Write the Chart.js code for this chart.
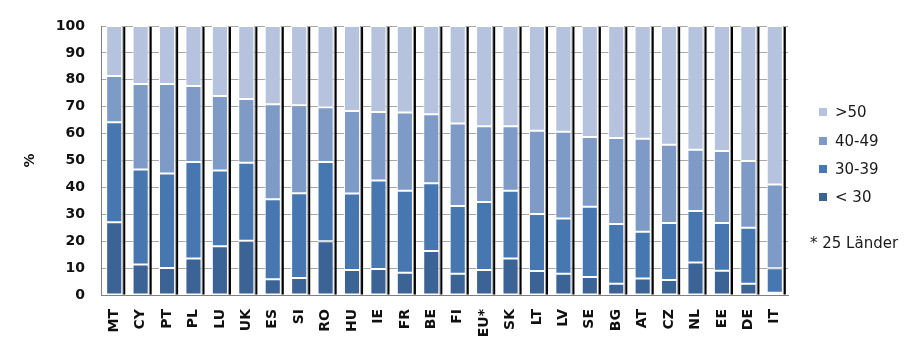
<!DOCTYPE html>
<html>
<head>
<meta charset="utf-8">
<script src="https://cdn.jsdelivr.net/npm/chart.js@4/dist/chart.umd.min.js"></script>
<style>
  html, body { margin: 0; padding: 0; background: #fff; }
  #wrap { position: relative; width: 916px; height: 348px; }
  canvas { position: absolute; left: 0; top: 0; }
  .leg { position: absolute; left: 819px; font-family: "DejaVu Sans", sans-serif; font-size: 15px; color: #1a1a1a; line-height: 16px; white-space: nowrap; }
  .leg i { display: inline-block; width: 8px; height: 8px; margin-right: 8px; vertical-align: 1px; }
  .note { position: absolute; left: 810px; top: 234px; font-family: "DejaVu Sans", sans-serif; font-size: 15px; color: #1a1a1a; white-space: nowrap; }
</style>
</head>
<body>
<div id="wrap">
  <canvas id="c" width="916" height="348"></canvas>
</div>
<script>
const categories = ["MT","CY","PT","PL","LU","UK","ES","SI","RO","HU","IE","FR","BE","FI","EU*","SK","LT","LV","SE","BG","AT","CZ","NL","EE","DE","IT"];
const seriesNames = ["< 30","30-39","40-49",">50"];
const under30  = [27.0,11.3,10.0,13.6,18.1,20.2, 5.9, 6.3,20.0, 9.3, 9.7, 8.3,16.4, 7.9, 9.3,13.6, 8.9, 7.9, 6.7, 4.2, 6.1, 5.6,12.1, 9.0, 4.2, 0.8];
const age30_39 = [37.2,35.4,35.2,35.8,28.2,29.0,29.7,31.5,29.4,28.4,32.9,30.5,25.1,25.2,25.3,25.2,21.2,20.5,26.1,22.2,17.4,21.2,19.1,17.8,20.8, 9.1];
const age40_49 = [17.2,31.7,33.2,28.3,27.7,23.7,35.3,32.7,20.4,30.7,25.4,29.0,25.7,30.7,28.1,23.9,31.0,32.3,25.9,32.0,34.6,29.1,22.8,26.7,24.8,31.2];
const over50   = [18.6,21.6,21.6,22.3,26.0,27.1,29.1,29.5,30.2,31.6,32.0,32.2,32.8,36.2,37.3,37.3,38.9,39.3,41.3,41.6,41.9,44.1,46.0,46.5,50.2,58.9];
const yTicks = [0,10,20,30,40,50,60,70,80,90,100];
const footnote = "* 25 Länder";

const colors = ["#3B6396","#4677B0","#7E9BC8","#B5C3DF"];
const values = [under30, age30_39, age40_49, over50];

// HTML legend (reverse order like reference)
const wrap = document.getElementById('wrap');
const legTops = [189, 161, 133, 104];
for (let i = 3; i >= 0; i--) {
  const d = document.createElement('div');
  d.className = 'leg';
  d.style.top = legTops[i] + 'px';
  d.innerHTML = '<i style="background:' + colors[i] + '"></i>';
  d.appendChild(document.createTextNode(seriesNames[i]));
  wrap.appendChild(d);
}
const n = document.createElement('div');
n.className = 'note';
n.textContent = footnote;
wrap.appendChild(n);

// Dark drop shadow on the right of each stacked bar, from the bar elements' geometry
const shadowPlugin = {
  id: 'barShadow',
  beforeDatasetsDraw(chart) {
    const ctx = chart.ctx;
    const last = chart.getDatasetMeta(values.length - 1).data;
    const first = chart.getDatasetMeta(0).data;
    ctx.save();
    last.forEach((el, i) => {
      const p = el.getProps(['x', 'y', 'width'], true);
      const base = first[i].getProps(['base'], true).base;
      const right = p.x + p.width / 2;
      ctx.fillStyle = '#9a9a9a';
      ctx.fillRect(right, p.y + 1, 1, base - p.y - 1);
      ctx.fillStyle = '#000';
      ctx.fillRect(right + 1, p.y + 1, 2, base - p.y - 1);
    });
    ctx.restore();
  }
};

new Chart(document.getElementById('c'), {
  type: 'bar',
  data: {
    labels: categories,
    datasets: values.map((v, i) => ({
      label: seriesNames[i],
      data: v,
      backgroundColor: colors[i],
      borderColor: '#ffffff',
      borderWidth: 1,
      borderSkipped: false,
      categoryPercentage: 1.0,
      barPercentage: 0.61
    }))
  },
  plugins: [shadowPlugin],
  options: {
    responsive: false,
    animation: false,
    devicePixelRatio: 1,
    layout: { padding: { top: 26, right: 128, left: 0, bottom: 0 } },
    plugins: { legend: { display: false }, tooltip: { enabled: false } },
    scales: {
      x: {
        stacked: true,
        grid: { display: false, drawTicks: false },
        border: { display: true, color: '#808080', width: 1 },
        ticks: {
          minRotation: 90, maxRotation: 90, padding: 14,
          color: '#111',
          font: { family: 'DejaVu Sans', size: 14, weight: 'bold' }
        },
        afterFit(s) { s.height = 53; }
      },
      y: {
        stacked: true,
        min: 0, max: 100,
        afterBuildTicks(s) { s.ticks = yTicks.map(v => ({ value: v })); },
        grid: { color: '#A6A6A6', lineWidth: 1, drawTicks: false },
        border: { display: true, color: '#808080', width: 1 },
        ticks: {
          padding: 16,
          color: '#111',
          font: { family: 'DejaVu Sans', size: 14, weight: 'bold' }
        },
        title: {
          display: true, text: '%', color: '#111',
          padding: { top: 22, bottom: 0 },
          font: { family: 'DejaVu Sans', size: 14, weight: 'bold' }
        },
        afterFit(s) { s.width = 101; }
      }
    }
  }
});
</script>
</body>
</html>
